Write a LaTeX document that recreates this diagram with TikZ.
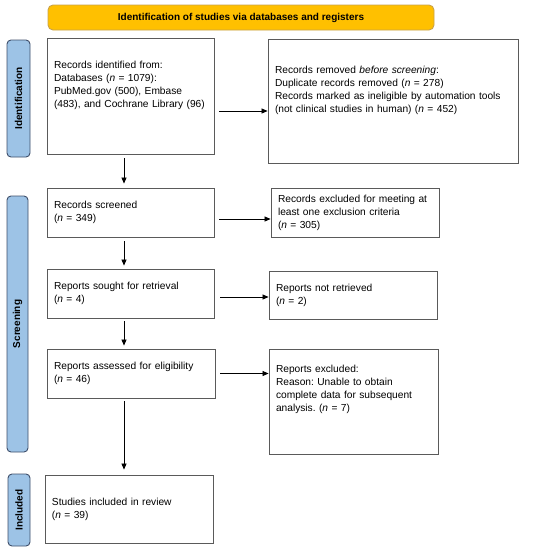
\documentclass[tikz,border=0pt]{standalone}
\usepackage{fontspec}
\setmainfont{Liberation Sans}
\frenchspacing
\usetikzlibrary{arrows.meta, positioning}

\definecolor{hdrfill}{HTML}{FFC000}
\definecolor{hdrdraw}{HTML}{C9A24A}
\definecolor{phasefill}{HTML}{9DC3E6}
\definecolor{phasedraw}{HTML}{3F4F6B}
\definecolor{boxdraw}{HTML}{5A5A5A}

\tikzset{
    flowbox/.style={draw=boxdraw, line width=0.9pt, fill=white, align=left,
        inner xsep=7pt, font=\fontsize{10.2}{13}\selectfont},
    raised/.style={text depth=#1},
    phase/.style={draw=phasedraw, fill=phasefill, line width=0.9pt,
        rounded corners=4pt, rotate=90, inner sep=0pt,
        font=\bfseries\fontsize{10}{12}\selectfont},
    flow/.style={-{Triangle[length=6pt,width=5pt]}, line width=0.7pt},
}

\begin{document}
\begin{tikzpicture}[x=1pt, y=-1pt]
    \useasboundingbox[fill=white] (0,0) rectangle (545,550);
    % Header
    \node[draw=hdrdraw, fill=hdrfill, line width=0.9pt, rounded corners=5pt,
        minimum width=386pt, minimum height=25pt,
        font=\bfseries\fontsize{10}{12}\selectfont] (header) at (241,17.5)
        {Identification of studies via databases and registers};
    % Phase labels
    \node[phase, minimum width=117pt, minimum height=23pt] (idlab) at (18.5,98.5) {Identification};
    \node[phase, minimum width=256pt, minimum height=21pt] (scrlab) at (17.5,324) {Screening};
    \node[phase, minimum width=72pt, minimum height=22pt] (inclab) at (19,510) {Included};
    % Left column
    \node[flowbox, raised=62pt, text width=153pt, minimum height=116pt] (ident) at (130.5,96)
        {Records identified from:\\
         Databases (\textit{n} = 1079):\\
         PubMed.gov (500), Embase\\
         (483), and Cochrane Library (96)};
    \node[flowbox, text width=153pt, minimum height=49pt] (screened) at (130.5,212.5)
        {Records screened\\ (\textit{n} = 349)};
    \node[flowbox, text width=153pt, minimum height=49pt] (sought) at (130.5,293.5)
        {Reports sought for retrieval\\ (\textit{n} = 4)};
    \node[flowbox, text width=154pt, minimum height=49pt] (assessed) at (131,373.5)
        {Reports assessed for eligibility\\ (\textit{n} = 46)};
    \node[flowbox, text width=154pt, minimum height=68pt] (incl) at (129,509)
        {Studies included in review\\ (\textit{n} = 39)};
    % Right column
    \node[flowbox, raised=63pt, text width=236pt, minimum height=124pt] (removed) at (393,101)
        {Records removed \textit{before screening}:\\
         Duplicate records removed (\textit{n} = 278)\\
         Records marked as ineligible by automation tools\\
         (not clinical studies in human) (\textit{n} = 452)};
    \node[flowbox, text width=154pt, minimum height=49pt] (excl) at (355,212.5)
        {Records excluded for meeting at\\
         least one exclusion criteria\\
         (\textit{n} = 305)};
    \node[flowbox, text width=154pt, minimum height=48pt] (notret) at (353,295)
        {Reports not retrieved\\ (\textit{n} = 2)};
    \node[flowbox, raised=65pt, text width=155pt, minimum height=105pt] (repexcl) at (353.5,401.5)
        {Reports excluded:\\
         Reason: Unable to obtain\\
         complete data for subsequent\\
         analysis. (\textit{n} = 7)};
    % Arrows down
    \draw[flow] ([xshift=-6.5pt,yshift=-4pt]ident.south) -- ([xshift=-6.5pt,yshift=4pt]screened.north);
    \draw[flow] ([xshift=-6.5pt,yshift=-4pt]screened.south) -- ([xshift=-6.5pt,yshift=3pt]sought.north);
    \draw[flow] ([xshift=-6.5pt,yshift=-3pt]sought.south) -- ([xshift=-7pt,yshift=3pt]assessed.north);
    \draw[flow] ([xshift=-7pt,yshift=-3pt]assessed.south) -- ([xshift=-5pt,yshift=5pt]incl.north);
    % Arrows across
    \draw[flow] ([xshift=5pt,yshift=-15pt]ident.east) -- ([yshift=-15pt]ident.east -| removed.west);
    \draw[flow] ([xshift=5pt,yshift=-6.5pt]screened.east) -- ([yshift=-6.5pt]screened.east -| excl.west);
    \draw[flow] ([xshift=6pt,yshift=-3.5pt]sought.east) -- ([yshift=-3.5pt]sought.east -| notret.west);
    \draw[flow] ([xshift=5pt]assessed.east) -- (assessed.east -| repexcl.west);
\end{tikzpicture}
\end{document}
